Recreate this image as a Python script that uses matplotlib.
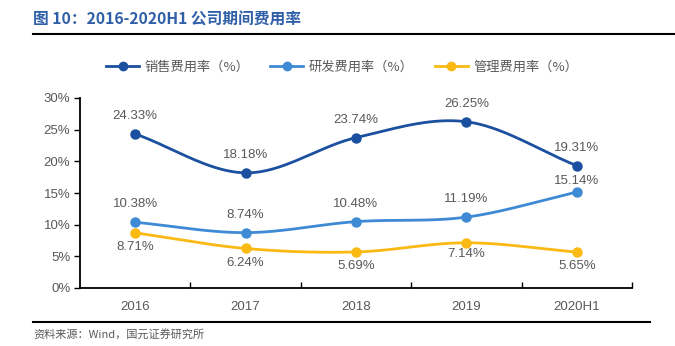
import numpy as np
import matplotlib
matplotlib.use("Agg")
import matplotlib.pyplot as plt
from matplotlib.lines import Line2D

plt.rcParams['font.family'] = ['Liberation Sans', 'Noto Sans CJK SC', 'DejaVu Sans']

categories = ["2016", "2017", "2018", "2019", "2020H1"]
sales_rate = [24.33, 18.18, 23.74, 26.25, 19.31]
rd_rate = [10.38, 8.74, 10.48, 11.19, 15.14]
admin_rate = [8.71, 6.24, 5.69, 7.14, 5.65]
series_names = ["销售费用率（%）", "研发费用率（%）", "管理费用率（%）"]
y_ticks = [0, 5, 10, 15, 20, 25, 30]

colors = ["#1b4f9f", "#3e8ad4", "#fbb914"]
text_gray = "#595959"
cjk = ['Noto Sans CJK SC', 'DejaVu Sans']

# vertical label offsets (points) from each marker, label centred on the offset
label_dy = [
    [13, 13, 13, 13, 13],
    [13, 13, 13, 13, 8],
    [-10, -10.5, -10, -8, -10],
]


def smooth(xs, ys, n=40):
    """Catmull-Rom spline through the points (Excel-like smoothed line)."""
    xs = np.asarray(xs, float)
    ys = np.asarray(ys, float)
    px = np.concatenate([[2 * xs[0] - xs[1]], xs, [2 * xs[-1] - xs[-2]]])
    py = np.concatenate([[2 * ys[0] - ys[1]], ys, [2 * ys[-1] - ys[-2]]])
    out_x, out_y = [], []
    t = np.linspace(0, 1, n)
    for i in range(1, len(px) - 2):
        for arr, out in ((px, out_x), (py, out_y)):
            p0, p1, p2, p3 = arr[i - 1], arr[i], arr[i + 1], arr[i + 2]
            out.extend(0.5 * ((2 * p1) + (-p0 + p2) * t
                              + (2 * p0 - 5 * p1 + 4 * p2 - p3) * t ** 2
                              + (-p0 + 3 * p1 - 3 * p2 + p3) * t ** 3))
    return np.array(out_x), np.array(out_y)


fig = plt.figure(figsize=(6.75, 3.46), dpi=100)
ax = fig.add_axes([80 / 675, 58 / 346, 552 / 675, 190 / 346])

x = np.arange(len(categories))
all_series = [sales_rate, rd_rate, admin_rate]

for vals, col, dys in zip(all_series, colors, label_dy):
    sx, sy = smooth(x, vals)
    ax.plot(sx, sy, color=col, lw=2.0, solid_capstyle='round', zorder=3)
    ax.plot(x, vals, 'o', color=col, ms=6.5, zorder=4)
    for xi, v, dy in zip(x, vals, dys):
        ax.annotate(f"{v:.2f}%", (xi, v), xytext=(0, dy), textcoords='offset points',
                    ha='center', va='center', fontsize=9.5, color=text_gray)

ax.set_xlim(-0.5, len(categories) - 0.5)
ax.set_ylim(0, 30)
ax.set_yticks(y_ticks)
ax.set_yticklabels([f"{t}%" for t in y_ticks], fontsize=9.5, color=text_gray)
ax.set_xticks(x)
ax.set_xticklabels(categories, fontsize=9.5, color=text_gray)
ax.tick_params(axis='x', length=0, pad=9)
ax.tick_params(axis='y', length=4, width=1, direction='out', pad=3)
ax.set_xticks(np.arange(0.5, len(categories) - 0.4, 1), minor=True)
ax.tick_params(axis='x', which='minor', length=4, width=1, direction='in')
for side in ('top', 'right'):
    ax.spines[side].set_visible(False)
for side in ('left', 'bottom'):
    ax.spines[side].set_color('black')
    ax.spines[side].set_linewidth(1.3)

handles = [Line2D([0], [0], color=c, lw=2.0, marker='o', ms=6) for c in colors]
fig.legend(handles, series_names, loc='center', bbox_to_anchor=(342 / 675, 1 - 67 / 346),
           ncol=3, frameon=False, handlelength=2.5, columnspacing=1.6, handletextpad=0.4,
           prop={'family': cjk, 'size': 9.5}, labelcolor=text_gray)

fig.text(33 / 675, 1 - 20 / 346, "图 10：2016-2020H1 公司期间费用率", fontsize=11.3,
         fontweight='bold', color="#2f5fa7", family=cjk, va='center', ha='left')
fig.add_artist(Line2D([33 / 675, 1.0], [1 - 34 / 346] * 2, color='black', lw=1.5))
fig.add_artist(Line2D([33 / 675, 650 / 675], [1 - 322 / 346] * 2, color='black', lw=1.5))
fig.text(33 / 675, 1 - 334 / 346, "资料来源：Wind，国元证券研究所", fontsize=8,
         color=text_gray, family=cjk, va='center', ha='left')

fig.savefig("out.png", dpi=100)
